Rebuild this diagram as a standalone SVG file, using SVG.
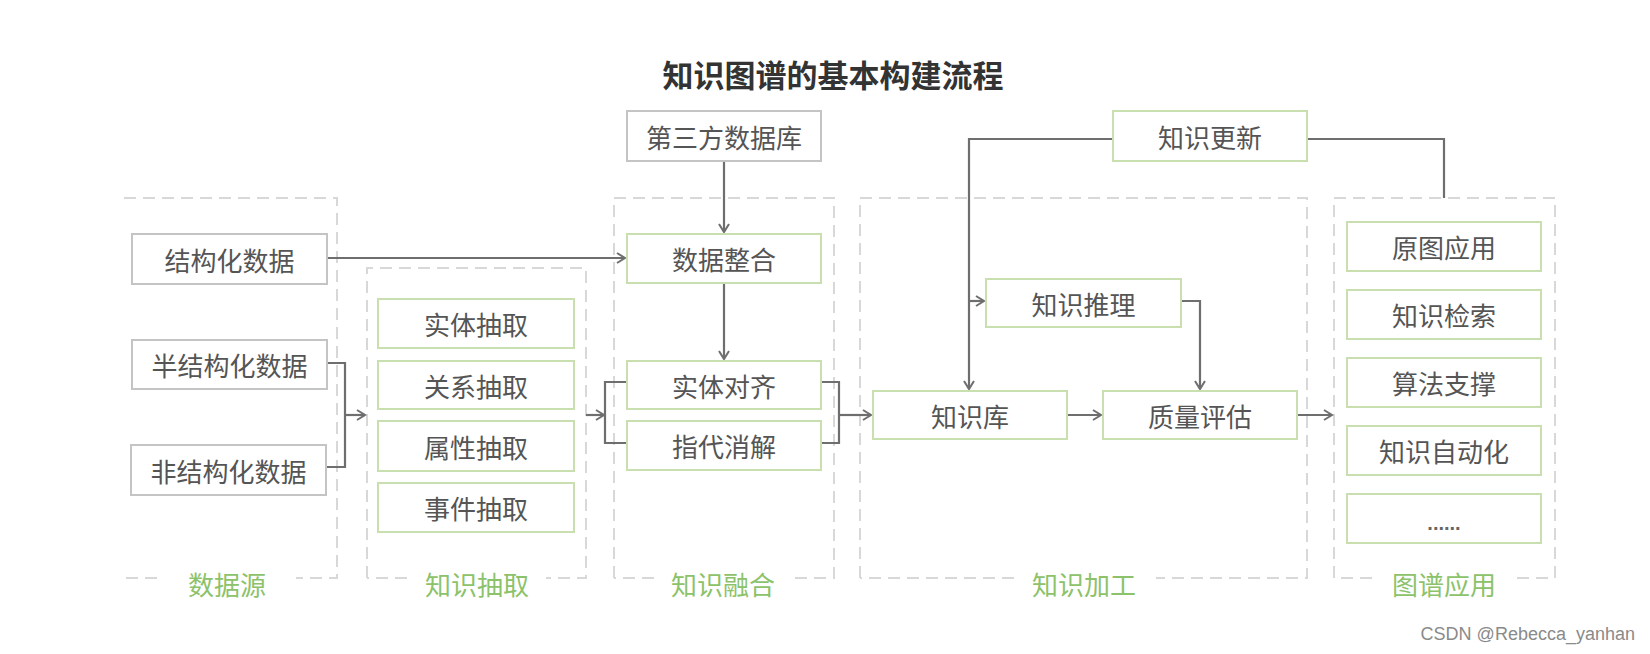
<svg xmlns="http://www.w3.org/2000/svg" width="1650" height="654" viewBox="0 0 1650 654">
<defs>
<style>
.g rect{fill:#fff;stroke:#c9dfb0;stroke-width:2}
.n rect{fill:#fff;stroke:#c4c4c4;stroke-width:2}
.t{font-family:"Noto Sans CJK SC","Noto Sans",sans-serif;font-size:26px;fill:#555;text-anchor:middle;dominant-baseline:central}
.lab{font-family:"Noto Sans CJK SC","Noto Sans",sans-serif;font-size:26px;fill:#8cc26a;text-anchor:middle;dominant-baseline:central}
.dash{fill:none;stroke:#d8d8d8;stroke-width:2;stroke-dasharray:12 7}
.c{fill:none;stroke:#6e6e6e;stroke-width:2.2}
</style>
<marker id="ar" markerWidth="12" markerHeight="12" refX="9" refY="6" orient="auto" markerUnits="userSpaceOnUse">
<path d="M1,1 L9,6 L1,11" fill="none" stroke="#6e6e6e" stroke-width="2"/>
</marker>
</defs>
<rect width="1650" height="654" fill="#fff"/>
<text x="833" y="73" font-family="'Noto Sans CJK SC','Noto Sans',sans-serif" font-size="31" font-weight="bold" fill="#333" text-anchor="middle" dominant-baseline="central">知识图谱的基本构建流程</text>

<g id="groups">
<path class="dash" d="M124 198 H337 V578 H296 M157 578 H124"/>
<text class="lab" x="227" y="583">数据源</text>
<path class="dash" d="M367 578 V268 H586 V578 H546 M407 578 H367"/>
<text class="lab" x="477" y="583">知识抽取</text>
<path class="dash" d="M614 578 V198 H834 V578 H793 M654 578 H614"/>
<text class="lab" x="723" y="583">知识融合</text>
<path class="dash" d="M860 578 V198 H1307 V578 H1156 M1014 578 H860"/>
<text class="lab" x="1084" y="583">知识加工</text>
<path class="dash" d="M1334 578 V198 H1555 V578 H1514 M1372 578 H1334"/>
<text class="lab" x="1444" y="583">图谱应用</text>
</g>

<g id="connectors">
<path class="c" d="M327 258 H625" marker-end="url(#ar)"/>
<path class="c" d="M327 363 H345 V467 H326"/>
<path class="c" d="M345 415 H365" marker-end="url(#ar)"/>
<path class="c" d="M586 415 H604" marker-end="url(#ar)"/>
<path class="c" d="M627 382 H605 V443 H627"/>
<path class="c" d="M724 161 V232" marker-end="url(#ar)"/>
<path class="c" d="M724 283 V359" marker-end="url(#ar)"/>
<path class="c" d="M821 382 H839 V443 H821"/>
<path class="c" d="M839 415 H871" marker-end="url(#ar)"/>
<path class="c" d="M1067 415 H1101" marker-end="url(#ar)"/>
<path class="c" d="M1113 139 H969 V389" marker-end="url(#ar)"/>
<path class="c" d="M969 301 H984" marker-end="url(#ar)"/>
<path class="c" d="M1181 301 H1200 V389" marker-end="url(#ar)"/>
<path class="c" d="M1297 415 H1332" marker-end="url(#ar)"/>
<path class="c" d="M1307 139 H1444 V198"/>
</g>

<g id="n-jiegou" class="n"><rect x="132" y="234" width="195" height="50"/><text class="t" x="229.5" y="259">结构化数据</text></g>
<g id="n-banjiegou" class="n"><rect x="132" y="340" width="195" height="49"/><text class="t" x="229.5" y="364.5">半结构化数据</text></g>
<g id="n-feijiegou" class="n"><rect x="131" y="445" width="195" height="50"/><text class="t" x="228.5" y="470">非结构化数据</text></g>

<g id="n-shiti" class="g"><rect x="378" y="299" width="196" height="49"/><text class="t" x="476" y="323.5">实体抽取</text></g>
<g id="n-guanxi" class="g"><rect x="378" y="361" width="196" height="48"/><text class="t" x="476" y="385">关系抽取</text></g>
<g id="n-shuxing" class="g"><rect x="378" y="421" width="196" height="50"/><text class="t" x="476" y="446">属性抽取</text></g>
<g id="n-shijian" class="g"><rect x="378" y="483" width="196" height="49"/><text class="t" x="476" y="507.5">事件抽取</text></g>

<g id="n-disanfang" class="n"><rect x="627" y="111" width="194" height="50"/><text class="t" x="724" y="136">第三方数据库</text></g>
<g id="n-zhenghe" class="g"><rect x="627" y="234" width="194" height="49"/><text class="t" x="724" y="258.5">数据整合</text></g>
<g id="n-duiqi" class="g"><rect x="627" y="361" width="194" height="48"/><text class="t" x="724" y="385">实体对齐</text></g>
<g id="n-xiaojie" class="g"><rect x="627" y="421" width="194" height="49"/><text class="t" x="724" y="445.5">指代消解</text></g>

<g id="n-gengxin" class="g"><rect x="1113" y="111" width="194" height="50"/><text class="t" x="1210" y="136">知识更新</text></g>
<g id="n-tuili" class="g"><rect x="986" y="279" width="195" height="48"/><text class="t" x="1083.5" y="303">知识推理</text></g>
<g id="n-zhishiku" class="g"><rect x="873" y="391" width="194" height="48"/><text class="t" x="970" y="415">知识库</text></g>
<g id="n-pinggu" class="g"><rect x="1103" y="391" width="194" height="48"/><text class="t" x="1200" y="415">质量评估</text></g>

<g id="n-yuantu" class="g"><rect x="1347" y="222" width="194" height="49"/><text class="t" x="1444" y="246.5">原图应用</text></g>
<g id="n-jiansuo" class="g"><rect x="1347" y="290" width="194" height="49"/><text class="t" x="1444" y="314.5">知识检索</text></g>
<g id="n-suanfa" class="g"><rect x="1347" y="358" width="194" height="49"/><text class="t" x="1444" y="382.5">算法支撑</text></g>
<g id="n-zidong" class="g"><rect x="1347" y="426" width="194" height="49"/><text class="t" x="1444" y="450.5">知识自动化</text></g>
<g id="n-more" class="g"><rect x="1347" y="494" width="194" height="49"/><text x="1444" y="530" font-family="'Liberation Sans',Arial,sans-serif" font-size="20" font-weight="bold" fill="#666" text-anchor="middle">......</text></g>

<text x="1635" y="634" font-family="'Liberation Sans',Arial,sans-serif" font-size="18" fill="#8a8a8a" text-anchor="end" dominant-baseline="central">CSDN @Rebecca_yanhan</text>
</svg>
